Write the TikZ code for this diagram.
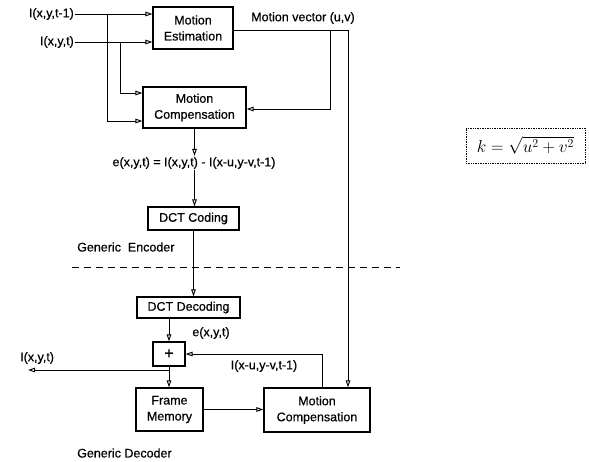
\documentclass[tikz,border=0pt]{standalone}
\usepackage[no-math]{fontspec}
\newfontfamily\arialf[FakeBold=0.6]{Liberation Sans}
\usetikzlibrary{arrows.meta}
\tikzset{
  lbl/.style={font=\arialf\fontsize{12.5}{14}\selectfont, inner sep=1pt},
  blk/.style={draw, line width=1.1pt, align=center, font=\arialf\fontsize{12.5}{16}\selectfont, inner sep=0pt},
  arr/.style={-{Triangle[open, length=7pt, width=4.5pt]}, line width=0.9pt},
  ln/.style={line width=0.9pt}
}
\begin{document}
\begin{tikzpicture}[x=1pt,y=-1pt]
\useasboundingbox (0,0) rectangle (589,461);
% blocks
\node[blk, minimum width=80pt, minimum height=42pt] (ME) at (193,28) {Motion\\Estimation};
\node[blk, minimum width=103pt, minimum height=41pt] (MC1) at (194.5,107.5) {Motion\\Compensation};
\node[blk, minimum width=91pt, minimum height=23pt] (DCTc) at (193.5,218.5) {DCT Coding};
\node[blk, minimum width=103pt, minimum height=21pt] (DCTd) at (188.5,307.5) {DCT Decoding};
\node[blk, minimum width=32pt, minimum height=24pt, font=\arialf\fontsize{16}{16}\selectfont] (plus) at (169,354) {+};
\node[blk, minimum width=67pt, minimum height=43pt] (FM) at (169.5,409.5) {Frame\\Memory};
\node[blk, minimum width=106pt, minimum height=44pt] (MC2) at (317,410) {Motion\\Compensation};
% labels
\node[lbl, anchor=east] (in1) at (75,14) {I(x,y,t-1)};
\node[lbl, anchor=east] (in2) at (75,42) {I(x,y,t)};
\node[lbl] (mvl) at (303,18) {Motion vector (u,v)};
\node[lbl] (eq) at (194,163) {e(x,y,t) = I(x,y,t) - I(x-u,y-v,t-1)};
\node[lbl, anchor=west] (genc) at (76,247) {Generic\ \ Encoder};
\node[lbl] (el) at (211,333) {e(x,y,t)};
\node[lbl] (pl) at (264,366) {I(x-u,y-v,t-1)};
\node[lbl, anchor=west] (outl) at (19,358) {I(x,y,t)};
\node[lbl, anchor=west] (gdec) at (76,453) {Generic Decoder};
\node[draw, densely dotted, line width=0.7pt, minimum width=119pt, minimum height=35pt, inner sep=1pt] (form) at (525.5,145.5) {\fontsize{18.5}{20}\selectfont$k=\sqrt{u^2+v^2}$};
% coordinates
\coordinate (b1) at (107,14);
\coordinate (b1e) at (107,121);
\coordinate (b2) at (120,42);
\coordinate (b2e) at (120,93);
\coordinate (mv1) at (330,30);
\coordinate (mv1e) at (330,109);
\coordinate (mv2) at (348,30);
\coordinate (o1) at (169,370);
\coordinate (out) at (28,370);
\coordinate (fb) at (322,354);
% connectors
\draw[arr] (in1.east) -- (in1.east -| ME.west);
\draw[arr] (in2.east) -- (in2.east -| ME.west);
\draw[arr] (b1) -- (b1e) -- (b1e -| MC1.west);
\draw[arr] (b2) -- (b2e) -- (b2e -| MC1.west);
\draw[arr] (ME.east |- mv2) -- (mv2) -- (mv2 |- MC2.north);
\draw[arr] (mv1) -- (mv1e) -- (mv1e -| MC1.east);
\draw[arr] (MC1.south) -- (MC1.south |- eq.north);
\draw[arr] (MC1.south |- eq.south) -- (MC1.south |- DCTc.north);
\draw[arr] (DCTc.south) -- (DCTc.south |- DCTd.north);
\draw[arr] (plus.north |- DCTd.south) -- (plus.north);
\draw[arr] (plus.south) -- (plus.south |- FM.north);
\draw[arr] (o1) -- (out);
\draw[arr] (FM.east) -- (FM.east -| MC2.west);
\draw[arr] (fb |- MC2.north) -- (fb) -- (fb -| plus.east);
% separator
\draw[line width=1pt, dash pattern=on 7pt off 5pt] (72,267) coordinate (d1) -- (400,267) coordinate (d2);
\end{tikzpicture}
\end{document}
